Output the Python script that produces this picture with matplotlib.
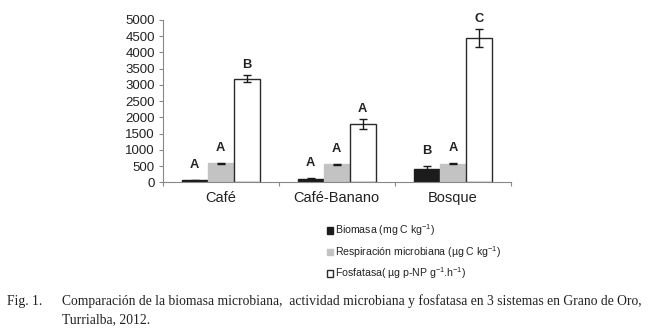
import matplotlib.pyplot as plt
import numpy as np

plt.rcParams['font.family'] = ['Liberation Sans', 'DejaVu Sans']
plt.rcParams['mathtext.fontset'] = 'custom'
plt.rcParams['mathtext.rm'] = 'Liberation Sans'

# data
sistemas = ["Café", "Café-Banano", "Bosque"]
biomasa = [60, 100, 410]
biomasa_err = [15, 20, 90]
respiracion = [585, 555, 575]
respiracion_err = [20, 15, 15]
fosfatasa = [3190, 1790, 4445]
fosfatasa_err = [110, 160, 275]
letras_bio = ["A", "A", "B"]
letras_resp = ["A", "A", "A"]
letras_fos = ["B", "A", "C"]
series_labels = ["Biomasa (mg C kg$^{-1}$)",
                 "Respiración microbiana (µg C kg$^{-1}$)",
                 "Fosfatasa( µg p-NP g$^{-1}$.h$^{-1}$)"]

fig = plt.figure(figsize=(6.5, 3.33), dpi=100)
ax = fig.add_axes([0.25, 0.4525, 0.536, 0.4875])

x = np.arange(len(sistemas))
w = 0.224
series = [(biomasa, biomasa_err, letras_bio, '#1c1c1c', '#1c1c1c'),
          (respiracion, respiracion_err, letras_resp, '#c3c3c3', '#c3c3c3'),
          (fosfatasa, fosfatasa_err, letras_fos, 'white', '#2a2a2a')]
handles = []
for i, (vals, errs, letras, fc, ec) in enumerate(series):
    pos = x + (i - 1) * w
    b = ax.bar(pos, vals, w, color=fc, edgecolor=ec, linewidth=1.0,
               yerr=errs, capsize=3, error_kw=dict(ecolor='#1a1a1a', elinewidth=1, capthick=1))
    handles.append(b)
    for p, v, e, l in zip(pos, vals, errs, letras):
        off = 9 if v + e < 1000 else 4
        ax.annotate(l, (p, v + e), xytext=(0, off), textcoords='offset pixels',
                    ha='center', va='bottom', fontsize=9.3, fontweight='bold', color='#222222')

ax.set_xlim(-0.5, 2.5)
ax.set_ylim(0, 5000)
ax.set_yticks(range(0, 5001, 500))
ax.set_xticks([-0.5, 0.5, 1.5, 2.5], minor=False)
ax.set_xticklabels([])
ax.set_xticks(x, minor=True)
ax.set_xticklabels(sistemas, minor=True)
ax.tick_params(axis='x', which='minor', length=0, labelsize=10.5, pad=6, colors='#222222')
ax.tick_params(axis='x', which='major', length=3, color='#888888')
ax.tick_params(axis='y', length=3, labelsize=9.5, color='#888888', labelcolor='#222222', pad=2.5)
for s in ['top', 'right']:
    ax.spines[s].set_visible(False)
for s in ['left', 'bottom']:
    ax.spines[s].set_color('#888888')
    ax.spines[s].set_linewidth(0.8)

leg = fig.legend(handles, series_labels, loc='upper left', bbox_to_anchor=(0.497, 0.345),
                 frameon=False, fontsize=7.6, handlelength=0.55, handleheight=0.55,
                 handletextpad=0.2, labelspacing=0.55, borderaxespad=0)
for t in leg.get_texts():
    t.set_color('#222222')

cap_font = dict(family='Liberation Serif', fontsize=9.8, color='#222222')
fig.text(0.011, 0.083, "Fig. 1.", **cap_font)
fig.text(0.095, 0.083, "Comparación de la biomasa microbiana,  actividad microbiana y fosfatasa en 3 sistemas en Grano de Oro,",
         **cap_font)
fig.text(0.095, 0.03, "Turrialba, 2012.", **cap_font)

fig.savefig("out.png", dpi=100)
